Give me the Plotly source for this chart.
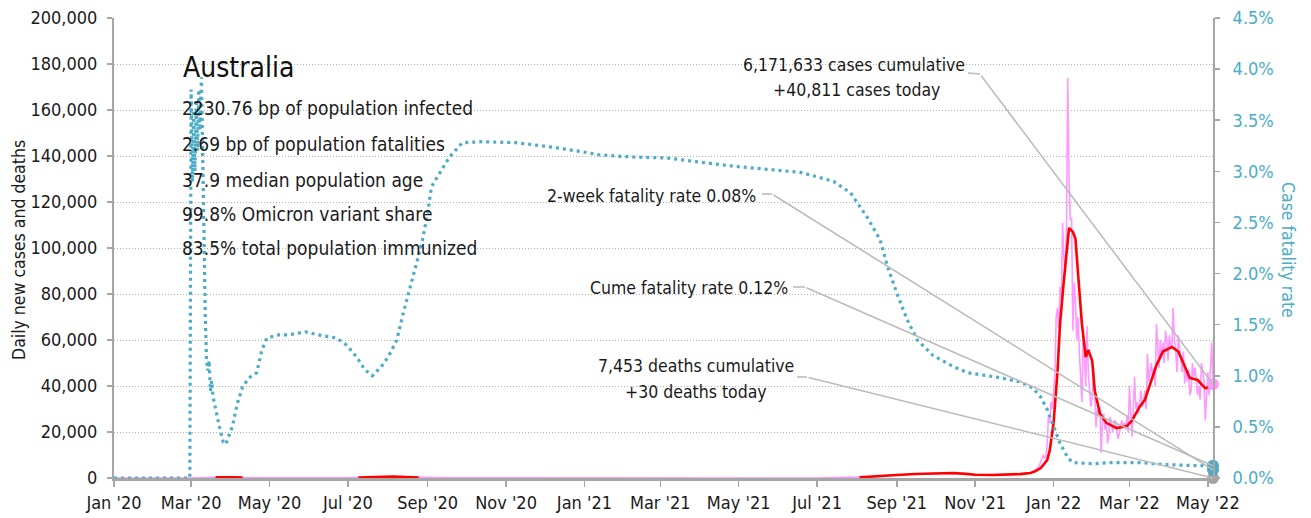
import pandas as pd
import plotly.graph_objects as go

FONT = "DejaVu Sans Condensed, Liberation Sans, sans-serif"
TEAL = "#4aacc6"
PINK = "#ff99ff"
RED = "#ff0000"
GREY = "#bbbbbb"
AXIS = "#a6a6a6"
INK = "#1a1a1a"

# ---------------- data ----------------
# daily new cases: sparse early points, then daily values from 2021-12-15
early_daily_dates = ["2020-01-01", "2020-03-01", "2020-03-28", "2020-04-15", "2020-07-01",
                     "2020-08-05", "2020-09-15", "2021-07-01", "2021-08-15", "2021-09-01",
                     "2021-10-01", "2021-11-01", "2021-12-01", "2021-12-14"]
early_daily_cases = [0, 0, 400, 50, 50, 600, 40, 20, 600, 1300, 2000, 1500, 1500, 2300]

recent_daily_start = "2021-12-15"
recent_daily_cases = [
    2500, 2800, 3200, 3700, 4200, 4600, 5500, 7000, 9000, 10000, 8500, 9500, 15000, 27000, 24000, 33000, 30000,
    37000, 45000, 70000, 74000, 65000, 83000, 78000, 111000, 96000, 88000, 108000, 174000, 130000, 112000,
    113000, 64000, 85000, 77000, 60000, 70000, 55000, 46000, 33000, 63000, 52000, 40000, 66000, 46000,
    38000, 31000, 35000,
    48000, 38000, 22000, 30000, 27000, 31000, 11000, 25000, 28000, 21000, 24000, 15000, 19000, 26500,
    23000, 20000, 24000, 25000, 22000, 17000, 19000, 23000, 25000, 22000, 24000, 21000, 27000, 20000,
    40000, 28000, 18000, 30000, 44000, 30000, 33000, 28000, 35000, 38000, 31000, 33000, 38000, 30000,
    54000, 42000, 46000, 50000, 44000, 48000, 40000, 67000, 58000, 48000, 60000, 52000, 59000, 50000,
    64000, 60000, 51000,
    62000, 58000, 56000, 74000, 60000, 55000, 46000, 62000, 57000, 50000, 46000, 55000, 41000, 48000,
    42000, 47000, 36000, 38000, 50000, 44000, 48000, 43000, 36000, 40000, 34000, 50000, 46000, 42000,
    25000, 39000,
    46000, 36000, 52000, 59000, 40811,
]

# 7-day average of new cases (None = break where the line sits on the axis)
avg_dates = [
    "2020-03-20", "2020-03-28", "2020-04-04", "2020-04-10", "2020-04-11",
    "2020-07-09", "2020-07-20", "2020-08-05", "2020-08-15", "2020-08-25", "2020-08-26",
    "2021-08-03", "2021-08-15", "2021-09-01", "2021-09-15", "2021-10-01", "2021-10-15", "2021-10-25",
    "2021-11-01", "2021-11-15", "2021-11-25", "2021-12-06", "2021-12-14", "2021-12-18", "2021-12-22",
    "2021-12-27", "2021-12-29", "2022-01-01", "2022-01-04", "2022-01-06", "2022-01-09", "2022-01-12",
    "2022-01-13", "2022-01-16", "2022-01-18", "2022-01-20", "2022-01-23", "2022-01-26", "2022-01-28",
    "2022-01-31", "2022-02-02", "2022-02-06", "2022-02-11", "2022-02-19", "2022-02-27", "2022-03-03",
    "2022-03-09", "2022-03-13", "2022-03-17", "2022-03-22", "2022-03-27", "2022-04-03", "2022-04-08",
    "2022-04-12", "2022-04-17", "2022-04-23", "2022-04-29", "2022-05-05",
]
avg_cases = [
    300, 420, 300, 200, None,
    250, 400, 600, 400, 200, None,
    300, 600, 1300, 1750, 1900, 2200, 1800,
    1400, 1300, 1400, 1700, 2200, 3000, 4300,
    7800, 12000, 24000, 46000, 67000, 86000, 103000,
    108700, 107000, 104000, 89000, 67000, 52600, 55700,
    51000, 38000, 28000, 24000, 21700, 22600, 25000,
    31000, 34000, 41000, 49000, 55000, 57000, 55000,
    50000, 43500, 42600, 39000, 40400,
]

# cumulative case fatality rate (%)
cfr_dates = [
    "2020-01-01", "2020-02-29", "2020-03-01", "2020-03-02", "2020-03-03", "2020-03-04", "2020-03-05",
    "2020-03-06", "2020-03-07", "2020-03-08", "2020-03-09", "2020-03-10", "2020-03-11", "2020-03-12",
    "2020-03-13", "2020-03-14", "2020-03-15", "2020-03-16", "2020-03-17", "2020-03-18", "2020-03-20",
    "2020-03-23", "2020-03-26", "2020-03-28", "2020-03-30", "2020-04-02", "2020-04-06", "2020-04-10",
    "2020-04-15", "2020-04-21", "2020-04-25", "2020-04-29", "2020-05-08", "2020-05-16", "2020-05-29",
    "2020-06-08", "2020-06-22", "2020-06-30", "2020-07-08", "2020-07-14", "2020-07-20", "2020-07-27",
    "2020-08-02", "2020-08-08", "2020-08-13", "2020-08-18", "2020-08-24", "2020-08-28", "2020-09-01",
    "2020-09-04", "2020-09-10", "2020-09-18", "2020-09-28", "2020-10-14", "2020-11-09", "2020-12-05",
    "2020-12-31", "2021-01-13", "2021-02-08", "2021-03-07", "2021-04-01", "2021-04-27", "2021-05-23",
    "2021-06-18", "2021-07-03", "2021-07-14", "2021-07-27", "2021-08-09", "2021-08-19", "2021-08-25",
    "2021-09-01", "2021-09-09", "2021-09-17", "2021-09-29", "2021-10-15", "2021-10-26", "2021-11-21",
    "2021-12-06", "2021-12-16", "2021-12-22", "2021-12-27", "2022-01-01", "2022-01-06", "2022-01-12",
    "2022-01-16", "2022-02-01", "2022-02-14", "2022-03-09", "2022-03-31", "2022-04-25", "2022-05-05",
]
cfr_values = [
    0, 0, 3.80, 2.90, 3.60, 3.00, 3.70,
    3.20, 3.80, 3.40, 3.92, 3.30, 2.40, 1.60,
    1.15, 1.05, 1.15, 0.85, 0.95, 0.80, 0.67,
    0.50, 0.35, 0.33, 0.40, 0.50, 0.73, 0.89,
    0.98, 1.03, 1.25, 1.37, 1.40, 1.40, 1.43,
    1.40, 1.37, 1.30, 1.18, 1.06, 1.00, 1.09,
    1.20, 1.35, 1.61, 1.84, 2.13, 2.33, 2.59,
    2.85, 2.98, 3.14, 3.28, 3.29, 3.28, 3.24,
    3.19, 3.16, 3.14, 3.13, 3.09, 3.05, 3.02,
    2.99, 2.94, 2.90, 2.79, 2.55, 2.33, 2.06,
    1.81, 1.55, 1.35, 1.20, 1.09, 1.03, 0.98,
    0.94, 0.88, 0.79, 0.67, 0.50, 0.34, 0.20,
    0.15, 0.14, 0.15, 0.15, 0.13, 0.12, 0.1208,
]

last_date = "2022-05-05"
cases_today = 40811
deaths_today = 30
cfr_cume = 0.1208
cfr_2week = 0.08

info_title = "Australia"
info_lines = [
    "2230.76 bp of population infected",
    "2.69 bp of population fatalities",
    "37.9 median population age",
    "99.8% Omicron variant share",
    "83.5% total population immunized",
]

tick_dates = ["2020-01-01", "2020-03-01", "2020-05-01", "2020-07-01", "2020-09-01", "2020-11-01",
              "2021-01-01", "2021-03-01", "2021-05-01", "2021-07-01", "2021-09-01", "2021-11-01",
              "2022-01-01", "2022-03-01", "2022-05-01"]

# ---------------- build ----------------
daily_dates = list(pd.to_datetime(early_daily_dates)) + list(
    pd.date_range(recent_daily_start, periods=len(recent_daily_cases), freq="D"))
daily_cases = early_daily_cases + recent_daily_cases

fig = go.Figure()
fig.add_trace(go.Scatter(x=daily_dates, y=daily_cases, mode="lines",
                         line=dict(color=PINK, width=1.6), yaxis="y", hoverinfo="skip"))
fig.add_trace(go.Scatter(x=pd.to_datetime(avg_dates), y=avg_cases, mode="lines",
                         line=dict(color=RED, width=2.6), connectgaps=False, yaxis="y"))
fig.add_trace(go.Scatter(x=pd.to_datetime(cfr_dates), y=cfr_values, mode="lines",
                         line=dict(color=TEAL, width=3.2, dash="3px,4px"), yaxis="y2"))
# end markers
fig.add_trace(go.Scatter(x=[last_date], y=[cases_today], mode="markers",
                         marker=dict(color=PINK, size=12), yaxis="y", cliponaxis=False))
fig.add_trace(go.Scatter(x=[last_date], y=[deaths_today], mode="markers",
                         marker=dict(color="#a0a0a0", size=12), yaxis="y", cliponaxis=False))
fig.add_trace(go.Scatter(x=[last_date, last_date], y=[cfr_cume, cfr_2week], mode="markers",
                         marker=dict(color=TEAL, size=12), yaxis="y2", cliponaxis=False))

W, H = 1311, 518
PL, PR, PT, PB = 114, 1213, 18, 478          # plot area in page pixels
L, R, T, B = PL, W - PR, PT, H - PB
PW, PH = PR - PL, PB - PT


def px(xp):
    return (xp - PL) / PW


def py(yp):
    return (PB - yp) / PH


annotations = []
annotations.append(dict(x=px(181), y=py(67), xref="paper", yref="paper", xanchor="left", yanchor="middle",
                        text=info_title, showarrow=False, font=dict(size=28, color="#111111", family=FONT)))
for yc, line in zip([108, 144, 180, 214, 248], info_lines):
    annotations.append(dict(x=px(180), y=py(yc), xref="paper", yref="paper", xanchor="left", yanchor="middle",
                            text=line, showarrow=False, font=dict(size=19, color=INK, family=FONT)))

lab_font = dict(size=17.5, color=INK, family=FONT)
labels = [
    dict(x=px(854), y=py(65), text="6,171,633 cases cumulative", xanchor="center"),
    dict(x=px(856), y=py(90), text="+40,811 cases today", xanchor="center"),
    dict(x=px(758), y=py(196), text="2-week fatality rate 0.08%", xanchor="right"),
    dict(x=px(790), y=py(288), text="Cume fatality rate 0.12%", xanchor="right"),
    dict(x=px(696), y=py(366), text="7,453 deaths cumulative", xanchor="center"),
    dict(x=px(696), y=py(392), text="+30 deaths today", xanchor="center"),
]
for a in labels:
    a.update(xref="paper", yref="paper", yanchor="middle", showarrow=False, font=lab_font)
annotations += labels

# connectors: diagonal from label stub to the end markers
conn = [
    (cases_today, "y", 980, 74, 384.0),
    (cfr_2week, "y2", 772, 194, 469.8),
    (cfr_cume, "y2", 805, 287, 465.6),
    (deaths_today, "y", 807, 377, 477.9),
]
for val, yref, sx, sy, ey in conn:
    annotations.append(dict(x=last_date, y=val, xref="x", yref=yref, text="", showarrow=True,
                            arrowhead=0, arrowwidth=1.6, arrowcolor=GREY, standoff=0, startstandoff=0,
                            ax=sx - PR, ay=sy - ey))

stubs = [(968, 980, 73, 74), (762, 772, 194, 194), (793, 805, 287, 287), (797, 807, 377, 377)]
shapes = [dict(type="line", xref="paper", yref="paper", x0=px(a), x1=px(b), y0=py(c), y1=py(d),
               line=dict(color=GREY, width=1.6)) for a, b, c, d in stubs]

# axis titles
annotations.append(dict(x=px(19), y=py(250), xref="paper", yref="paper", text="Daily new cases and deaths",
                        textangle=-90, showarrow=False, xanchor="center", yanchor="middle",
                        font=dict(size=17.5, color=INK, family=FONT)))
annotations.append(dict(x=px(1288), y=py(250), xref="paper", yref="paper", text="Case fatality rate",
                        textangle=90, showarrow=False, xanchor="center", yanchor="middle",
                        font=dict(size=17.5, color=TEAL, family=FONT)))

tickfont = dict(size=18, color=INK, family=FONT)
fig.update_layout(
    width=W, height=H, autosize=False,
    margin=dict(l=L, r=R, t=T, b=B, pad=0),
    paper_bgcolor="white", plot_bgcolor="white",
    showlegend=False,
    hovermode=False,
    font=dict(family=FONT, size=18, color=INK),
    xaxis=dict(type="date", range=["2020-01-01", last_date], tickvals=tick_dates, tickformat="%b '%y",
               showgrid=False, showline=True, linecolor=AXIS, linewidth=3, ticks="outside",
               ticklen=6, tickwidth=1.5, tickcolor=AXIS, zeroline=False, automargin=False,
               ticklabeloverflow="allow", tickfont=tickfont),
    yaxis=dict(range=[0, 200000], dtick=20000, tickformat=",", showgrid=True, gridcolor="#b0b0b0",
               griddash="1px,2px", gridwidth=1, showline=True, linecolor=AXIS, linewidth=2,
               ticks="outside", ticklen=5, tickwidth=1.5, tickcolor=AXIS, zeroline=False,
               automargin=False, ticklabeloverflow="allow", ticklabelstandoff=6, tickfont=tickfont),
    yaxis2=dict(range=[0, 4.5], dtick=0.5, tickformat=".1f", ticksuffix="%", overlaying="y", side="right",
                showgrid=False, showline=True, linecolor=AXIS, linewidth=2, ticks="outside", ticklen=5,
                tickwidth=1.5, tickcolor=AXIS, zeroline=False, automargin=False,
                ticklabeloverflow="allow", ticklabelstandoff=9,
                tickfont=dict(size=18, color=TEAL, family=FONT)),
    annotations=annotations,
    shapes=shapes,
)

fig.write_html("out.html", config={"displayModeBar": False, "staticPlot": True},
               post_script="document.body.style.margin='0';")
